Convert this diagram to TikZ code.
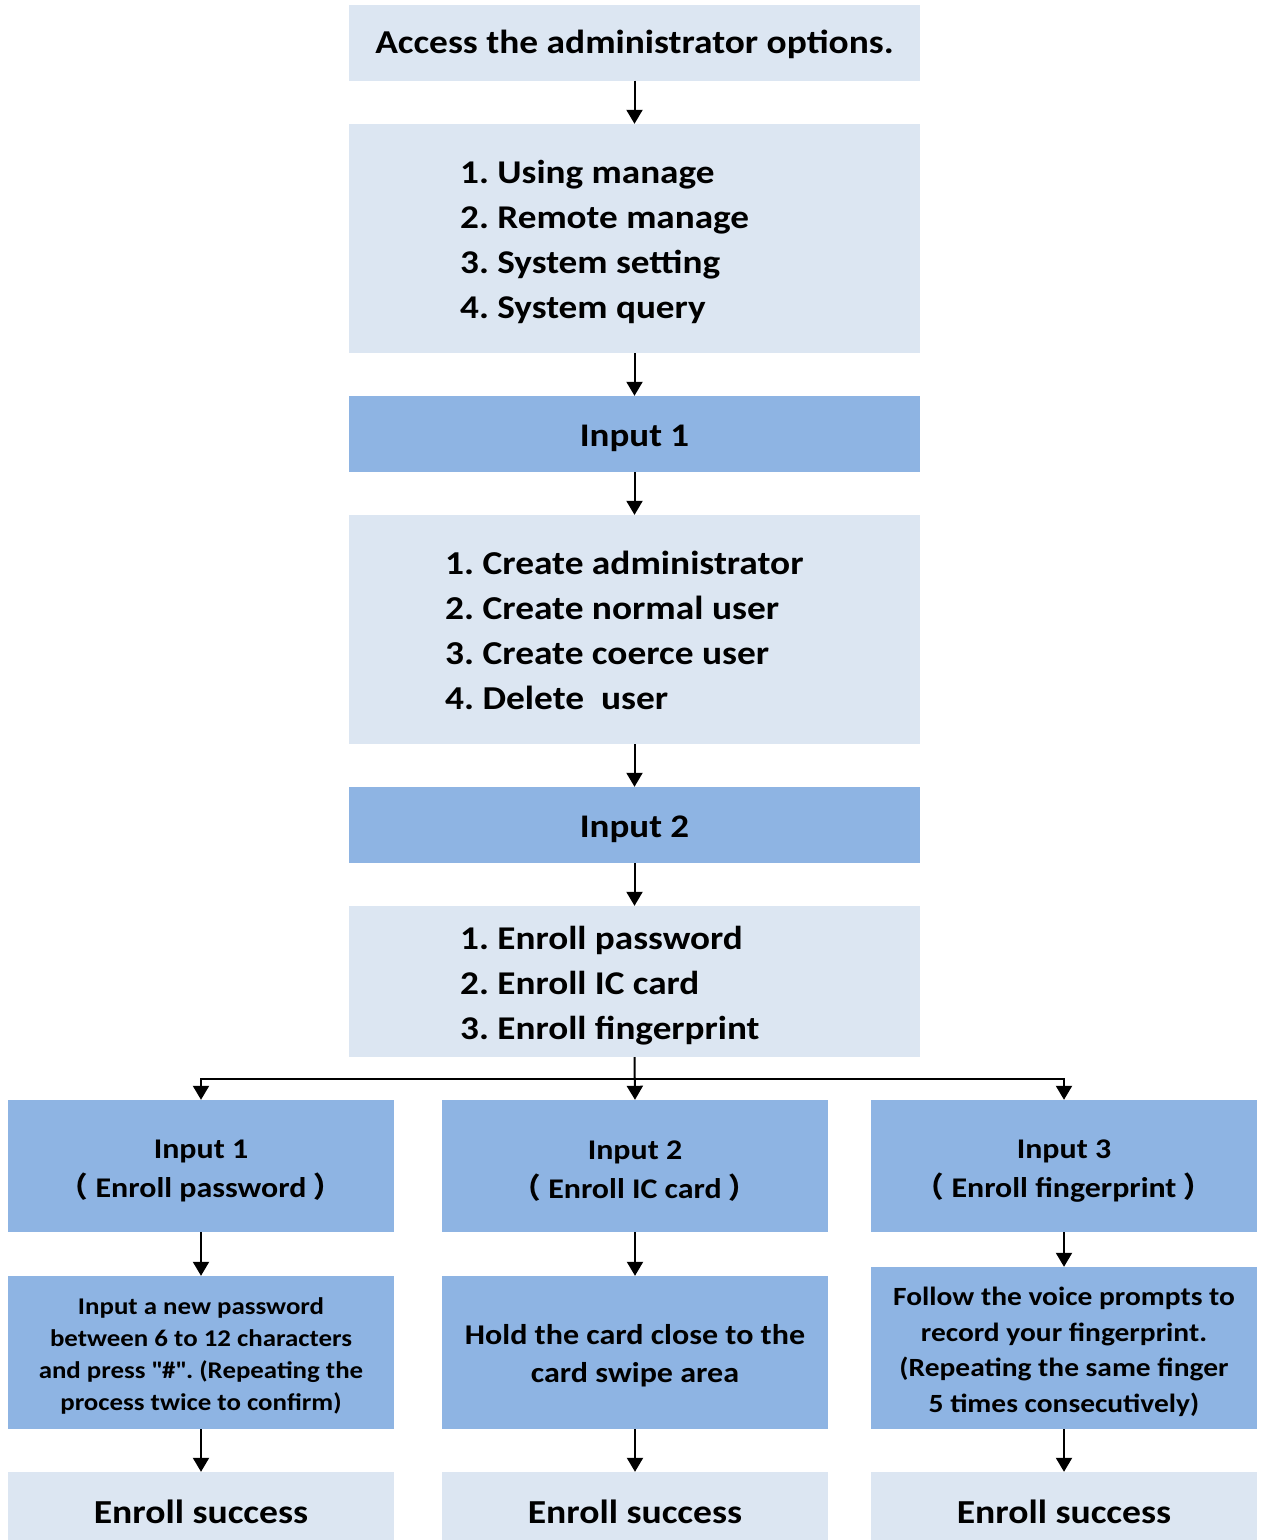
\documentclass[tikz,border=0pt]{standalone}
\usepackage{fontspec}
\setmainfont{Carlito}[FakeStretch=1.12]
\newfontfamily\cjk{Noto Sans CJK SC}
\usetikzlibrary{arrows.meta}
\definecolor{lightbox}{RGB}{220,230,242}
\definecolor{bluebox}{RGB}{142,180,227}
\newcommand{\lp}{{\cjk （}}
\newcommand{\rp}{{\cjk ）}}
\frenchspacing
\begin{document}
\begin{tikzpicture}[x=1pt,y=-1pt,
  lbox/.style={fill=lightbox,draw=none,inner sep=0pt},
  bbox/.style={fill=bluebox,draw=none,inner sep=0pt},
  wide/.style={minimum width=571pt},
  narrow/.style={minimum width=386pt},
  txt/.style={inner sep=0pt,font=\bfseries},
  arr/.style={line width=2pt,-{Triangle[width=16pt,length=14pt]}}]
\useasboundingbox (0,0) rectangle (1263,1540);
% main column
\node[lbox,wide,minimum height=76pt] (b1) at (634.5,42.5) {};
\node[txt,font=\bfseries\fontsize{33.4}{40}\selectfont] (t1) at (634.5,44.5) {Access the administrator options.};
\node[lbox,wide,minimum height=229pt] (b2) at (634.5,238.5) {};
\node[txt,anchor=west,align=left,font=\bfseries\fontsize{33.2}{44.7}\selectfont] (t2) at (460,242) {1. Using manage\\2. Remote manage\\3. System setting\\4. System query};
\node[bbox,wide,minimum height=76pt] (b3) at (634.5,434) {};
\node[txt,font=\bfseries\fontsize{33}{40}\selectfont] (t3) at (634.5,438.5) {Input 1};
\node[lbox,wide,minimum height=229pt] (b4) at (634.5,629.5) {};
\node[txt,anchor=west,align=left,font=\bfseries\fontsize{33.4}{45}\selectfont] (t4) at (445,630) {1. Create administrator\\2. Create normal user\\3. Create coerce user\\4. Delete~~user};
\node[bbox,wide,minimum height=76pt] (b5) at (634.5,825) {};
\node[txt,font=\bfseries\fontsize{33}{40}\selectfont] (t5) at (634.5,829.5) {Input 2};
\node[lbox,wide,minimum height=151pt] (b6) at (634.5,981.5) {};
\node[txt,anchor=west,align=left,font=\bfseries\fontsize{33.2}{45}\selectfont] (t6) at (460,986) {1. Enroll password\\2. Enroll IC card\\3. Enroll fingerprint};
% branches row 1
\node[bbox,narrow,minimum height=132pt] (r1) at (201,1166) {};
\node[bbox,narrow,minimum height=132pt] (r2) at (635,1166) {};
\node[bbox,narrow,minimum height=132pt] (r3) at (1064,1166) {};
\node[txt,align=center,font=\bfseries\fontsize{28.5}{38.5}\selectfont] (u1) at (201,1171) {Input 1\\\lp{} Enroll password \rp};
\node[txt,align=center,font=\bfseries\fontsize{28.5}{38.5}\selectfont] (u2) at (635,1171) {Input 2\\\lp{} Enroll IC card \rp};
\node[txt,align=center,font=\bfseries\fontsize{28.5}{38.5}\selectfont] (u3) at (1064,1171) {Input 3\\\lp{} Enroll fingerprint \rp};
% row 2
\node[bbox,narrow,minimum height=153pt] (s1) at (201,1352.5) {};
\node[bbox,narrow,minimum height=153pt] (s2) at (635,1352.5) {};
\node[bbox,narrow,minimum height=162pt] (s3) at (1064,1348) {};
\node[txt,align=center,font=\bfseries\fontsize{24}{32}\selectfont] (v1) at (201,1356) {Input a new password\\between 6 to 12 characters\\and press \textquotedbl\#\textquotedbl. (Repeating the\\process twice to confirm)};
\node[txt,align=center,font=\bfseries\fontsize{28.6}{38}\selectfont] (v2) at (635,1356) {Hold the card close to the\\card swipe area};
\node[txt,align=center,font=\bfseries\fontsize{26.3}{35.5}\selectfont] (v3) at (1064,1352) {Follow the voice prompts to\\record your fingerprint.\\(Repeating the same finger\\5 times consecutively)};
% row 3
\node[lbox,narrow,minimum height=75pt] (e1) at (201,1509.5) {};
\node[lbox,narrow,minimum height=75pt] (e2) at (635,1509.5) {};
\node[lbox,narrow,minimum height=75pt] (e3) at (1064,1509.5) {};
\node[txt,font=\bfseries\fontsize{33.6}{40}\selectfont] (w1) at (201,1512) {Enroll success};
\node[txt,font=\bfseries\fontsize{33.6}{40}\selectfont] (w2) at (635,1512) {Enroll success};
\node[txt,font=\bfseries\fontsize{33.6}{40}\selectfont] (w3) at (1064,1512) {Enroll success};
% connectors
\draw[arr] (b1) -- (b2);
\draw[arr] (b2) -- (b3);
\draw[arr] (b3) -- (b4);
\draw[arr] (b4) -- (b5);
\draw[arr] (b5) -- (b6);
\coordinate (j) at (634.5,1079);
\draw[arr] (b6.south) -- (r2.north);
\draw[arr] (j) -| (r1.north);
\draw[arr] (j) -| (r3.north);
\draw[arr] (r1) -- (s1);
\draw[arr] (r2) -- (s2);
\draw[arr] (r3) -- (s3);
\draw[arr] (s1) -- (e1);
\draw[arr] (s2) -- (e2);
\draw[arr] (s3) -- (e3);
\end{tikzpicture}
\end{document}
